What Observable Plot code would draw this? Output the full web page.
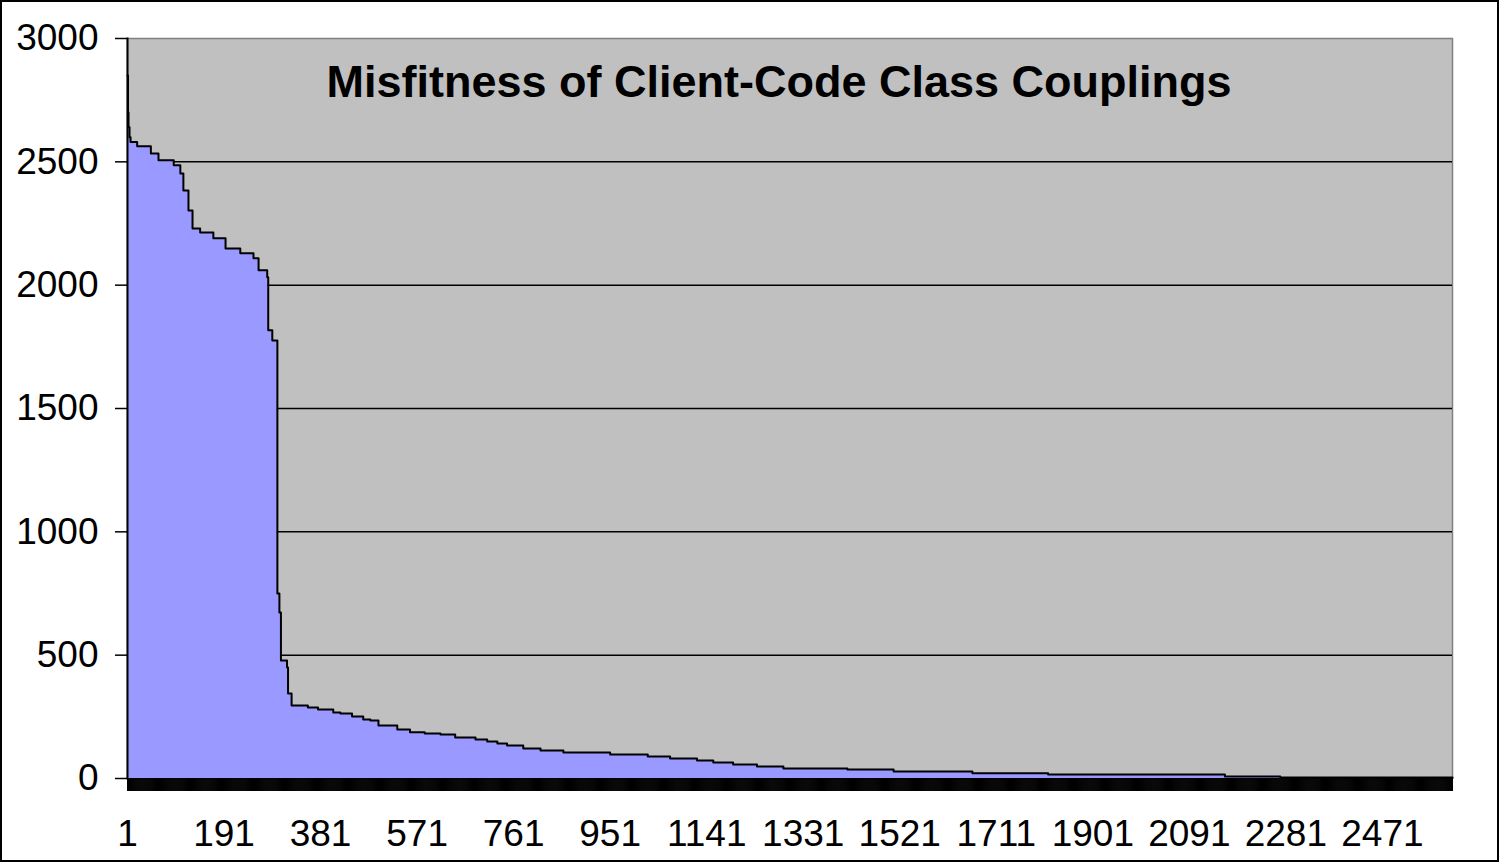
<!DOCTYPE html>
<html>
<head>
<meta charset="utf-8">
<script src="https://cdn.jsdelivr.net/npm/d3@7"></script>
<script src="https://cdn.jsdelivr.net/npm/@observablehq/plot@0.6"></script>
<style>
  html, body { margin: 0; padding: 0; background: #fff; }
  #chart svg { display: block; outline: 2px solid #000; outline-offset: -2px; }
</style>
</head>
<body>
<div id="chart"></div>
<script>
// Rank of the coupling (category index) where the value changes, and the misfitness value from there on
const couplingRank = [1, 2, 3, 5, 7, 20, 47, 62, 92, 105, 111, 121, 129, 144, 170, 194, 223, 249, 259, 276, 278, 286, 296, 300, 303, 315, 317, 324, 356, 376, 406, 420, 443, 465, 479, 495, 532, 557, 586, 617, 646, 686, 709, 729, 748, 780, 814, 859, 951, 1025, 1069, 1122, 1154, 1193, 1240, 1292, 1418, 1509, 1664, 1813, 2161, 2270, 2609];
const misfitness = [2850, 2700, 2640, 2600, 2580, 2563, 2534, 2506, 2486, 2453, 2384, 2303, 2230, 2214, 2190, 2149, 2129, 2109, 2060, 2032, 1817, 1776, 750, 673, 478, 450, 345, 296, 288, 280, 268, 264, 251, 239, 235, 215, 199, 187, 182, 178, 166, 158, 150, 142, 134, 122, 114, 105, 97, 89, 81, 73, 65, 57, 49, 41, 36, 28, 21, 16, 8, 4, 2];
const nCategories = 2609;
const xTickLabels = [1, 191, 381, 571, 761, 951, 1141, 1331, 1521, 1711, 1901, 2091, 2281, 2471];
const yTicks = [0, 500, 1000, 1500, 2000, 2500, 3000];
const gridValues = [500, 1000, 1500, 2000, 2500];
const title = "Misfitness of Client-Code Class Couplings";

const data = couplingRank.map((r, i) => ({rank: r, value: misfitness[i]}));
const allCategories = d3.range(1, nCategories + 1);

const chart = Plot.plot({
  width: 1499,
  height: 862,
  marginLeft: 127,
  marginRight: 47,
  marginTop: 38,
  marginBottom: 84,
  style: {fontFamily: "'Liberation Sans', Arial, sans-serif", background: "#fff", color: "#000"},
  x: {domain: [1, nCategories], axis: null},
  y: {domain: [0, 3000], axis: null},
  marks: [
    Plot.frame({fill: "#C0C0C0", stroke: "#808080", strokeWidth: 1.5}),
    Plot.ruleY(gridValues, {stroke: "#000", strokeWidth: 1.5}),
    Plot.areaY(data, {x: "rank", y: "value", curve: "step-after", fill: "#9999FF"}),
    Plot.lineY(data, {x: "rank", y: "value", curve: "step-after", stroke: "#000", strokeWidth: 2}),
    Plot.frame({anchor: "left", stroke: "#000", strokeWidth: 2}),
    Plot.axisY({ticks: yTicks, label: null, tickSize: 12, tickPadding: 17, fontSize: 37, tickFormat: d => String(d), stroke: "#000", strokeWidth: 1.5}),
    Plot.axisX({ticks: allCategories, label: null, tickSize: 13, tickPadding: 0, tickFormat: () => "", stroke: "#000", strokeWidth: 1}),
    Plot.axisX({ticks: xTickLabels, label: null, tickSize: 0, tickPadding: 41, fontSize: 37, tickFormat: d => String(d)}),
    Plot.text([title], {frameAnchor: "top", dx: -11, dy: 27, fontSize: 45, fontWeight: "bold", fill: "#000", lineAnchor: "top"})
  ]
});
document.getElementById("chart").appendChild(chart);
</script>
</body>
</html>
